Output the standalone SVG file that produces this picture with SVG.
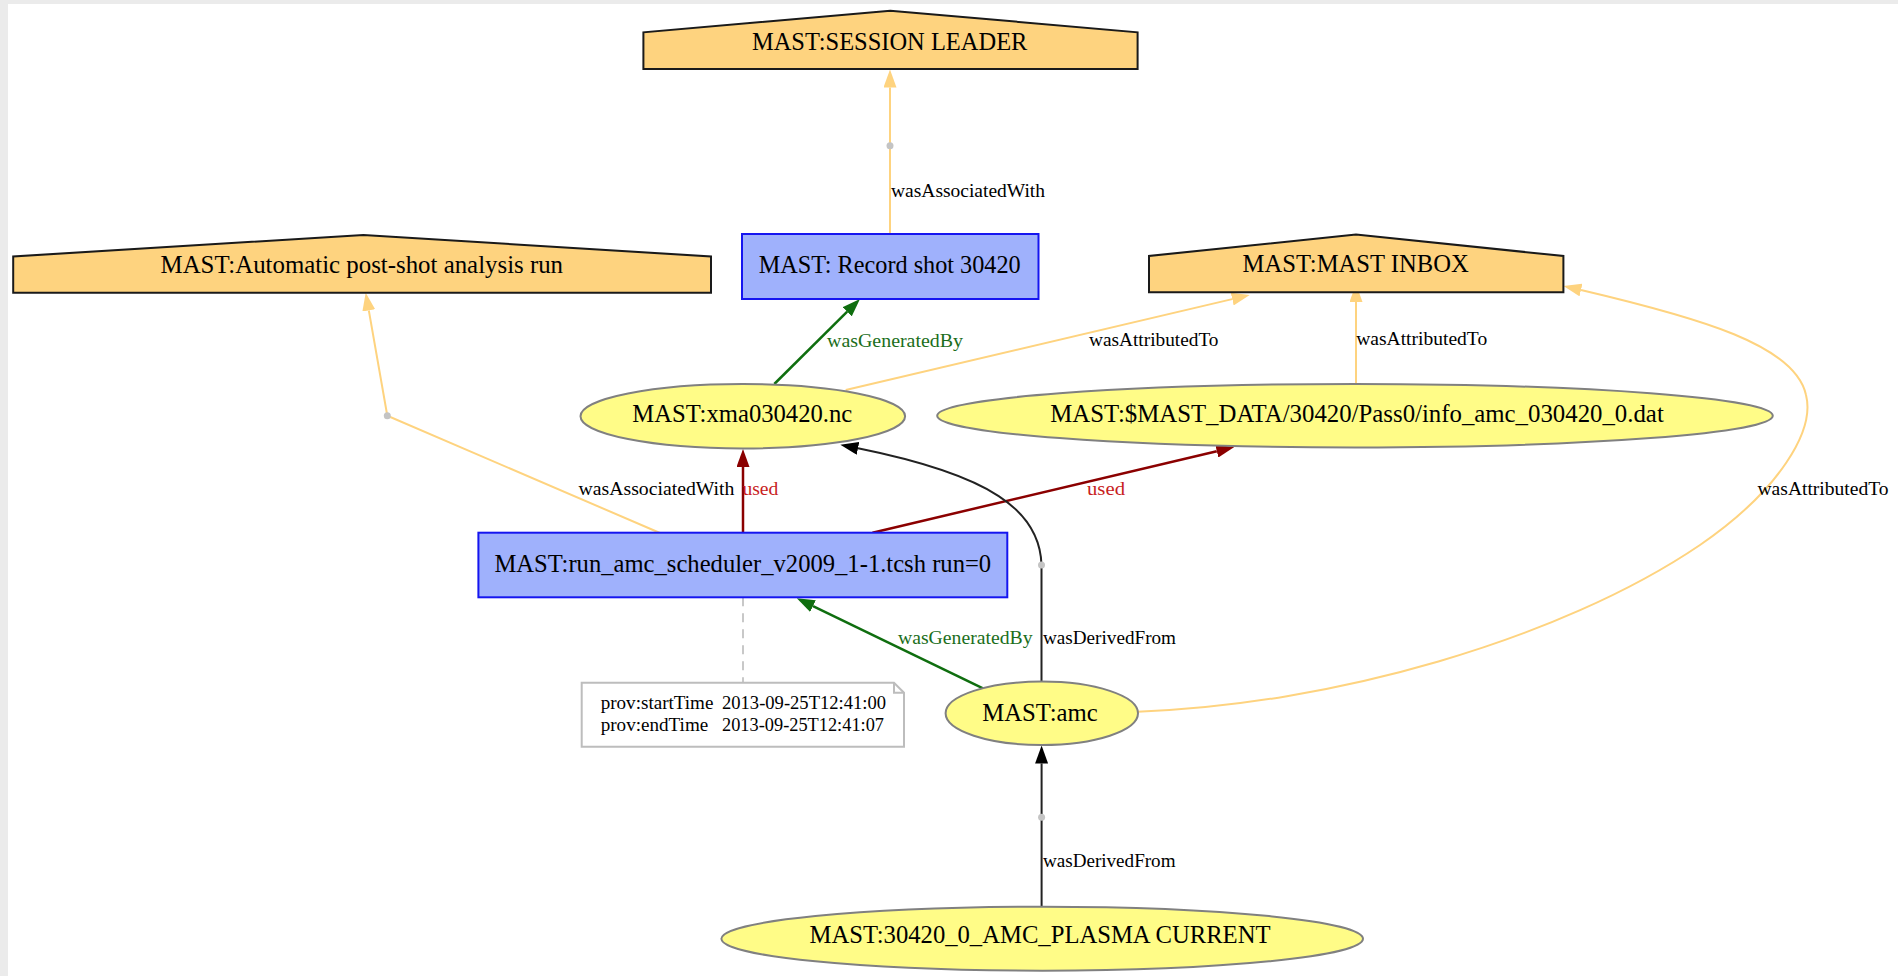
<svg xmlns="http://www.w3.org/2000/svg" width="1898" height="976" viewBox="0 0 1898 976">
<style>
.agent{fill:#fed37f;stroke:#1a1a1a;stroke-width:2}
.act{fill:#9fb1fc;stroke:#1515f0;stroke-width:2}
.ent{fill:#fffc87;stroke:#808080;stroke-width:2}
.nl{font-family:"Liberation Serif","Times New Roman",serif;font-size:25px;fill:#000;text-anchor:middle}
.el{font-family:"Liberation Serif","Times New Roman",serif;font-size:18px;fill:#000}
.gl{fill:#1b6e1b}
.ul{fill:#c81e1e}
.nt{font-family:"Liberation Serif","Times New Roman",serif;font-size:18px;fill:#000}
.e{fill:none;stroke-width:2}
.eo{stroke:#fed37f}
.eg{stroke:#0f6e0f;stroke-width:2.5}
.er{stroke:#8b0000;stroke-width:2.5}
.eb{stroke:#222}
.dot{fill:#c4c4c4}
</style>
<defs>
<marker id="ao" viewBox="0 0 18 13" markerWidth="18" markerHeight="13" refX="0" refY="6.5" orient="auto" markerUnits="userSpaceOnUse"><path d="M0,0 L18,6.5 L0,13 z" fill="#fed37f"/></marker>
<marker id="ag" viewBox="0 0 18 13" markerWidth="18" markerHeight="13" refX="0" refY="6.5" orient="auto" markerUnits="userSpaceOnUse"><path d="M0,0 L18,6.5 L0,13 z" fill="#0f6e0f"/></marker>
<marker id="ar" viewBox="0 0 18 13" markerWidth="18" markerHeight="13" refX="0" refY="6.5" orient="auto" markerUnits="userSpaceOnUse"><path d="M0,0 L18,6.5 L0,13 z" fill="#8b0000"/></marker>
<marker id="ab" viewBox="0 0 18 13" markerWidth="18" markerHeight="13" refX="0" refY="6.5" orient="auto" markerUnits="userSpaceOnUse"><path d="M0,0 L18,6.5 L0,13 z" fill="#000"/></marker>
</defs>
<rect x="0" y="0" width="1898" height="976" fill="#ebebeb"/>
<rect x="8" y="4" width="1890" height="972" fill="#ffffff"/>

<g id="connectors">
  <path class="e eo" d="M890,234 L890,87.5" marker-end="url(#ao)"/>
  <circle class="dot" cx="890" cy="145.7" r="3.5"/>
  <text class="el" x="891" y="197.3" textLength="154" lengthAdjust="spacingAndGlyphs">wasAssociatedWith</text>
  <path class="e eg" d="M774.3,384 L847.2,311.7" marker-end="url(#ag)"/>
  <text class="el gl" x="827" y="346.7" textLength="136" lengthAdjust="spacingAndGlyphs">wasGeneratedBy</text>
  <path class="e eo" d="M845.7,390 L1232.2,299.1" marker-end="url(#ao)"/>
  <text class="el" x="1089" y="346" textLength="129.5" lengthAdjust="spacingAndGlyphs">wasAttributedTo</text>
  <path class="e eo" d="M1356,384 L1356,302" marker-end="url(#ao)"/>
  <text class="el" x="1356.2" y="345" textLength="131" lengthAdjust="spacingAndGlyphs">wasAttributedTo</text>
  <path class="e eo" d="M1137.5,711.7 C1330,705 1560,640 1700,545 C1780,490 1815,430 1806,395 C1795,345 1700,318 1581,290" marker-end="url(#ao)"/>
  <text class="el" x="1757.5" y="495" textLength="131" lengthAdjust="spacingAndGlyphs">wasAttributedTo</text>
  <path class="e er" d="M743,532.7 L743,467" marker-end="url(#ar)"/>
  <text class="el ul" x="742.4" y="495" textLength="36" lengthAdjust="spacingAndGlyphs">used</text>
  <path class="e er" d="M872.5,532.7 L1216.8,451.2" marker-end="url(#ar)"/>
  <text class="el ul" x="1087" y="495" textLength="38" lengthAdjust="spacingAndGlyphs">used</text>
  <path class="e eo" d="M660,533 L387.3,415.7 L368.8,310.4" marker-end="url(#ao)"/>
  <circle class="dot" cx="387.3" cy="415.7" r="3.5"/>
  <text class="el" x="578.6" y="495" textLength="155.8" lengthAdjust="spacingAndGlyphs">wasAssociatedWith</text>
  <path class="e eg" d="M983,688.3 L813,606.1" marker-end="url(#ag)"/>
  <text class="el gl" x="898" y="644" textLength="134.5" lengthAdjust="spacingAndGlyphs">wasGeneratedBy</text>
  <path class="e eb" d="M1041.5,681.7 L1041.5,565 C1040,510 990,475 858,448.3" marker-end="url(#ab)"/>
  <circle class="dot" cx="1041.5" cy="565" r="3.5"/>
  <text class="el" x="1043" y="644" textLength="133" lengthAdjust="spacingAndGlyphs">wasDerivedFrom</text>
  <path class="e eb" d="M1041.6,906.7 L1041.6,763.5" marker-end="url(#ab)"/>
  <circle class="dot" cx="1041.6" cy="817.3" r="3.5"/>
  <text class="el" x="1043" y="867.3" textLength="132.5" lengthAdjust="spacingAndGlyphs">wasDerivedFrom</text>
  <path d="M743,597.3 L743,682.7" fill="none" stroke="#c8c8c8" stroke-width="2" stroke-dasharray="9,7"/>
</g>

<g id="session-leader">
  <polygon class="agent" points="643.4,69 643.4,32.3 890.3,10.7 1137.6,32.3 1137.6,69"/>
  <text class="nl" x="889.7" y="49.5" textLength="275.5" lengthAdjust="spacingAndGlyphs">MAST:SESSION LEADER</text>
</g>
<g id="automatic-run">
  <polygon class="agent" points="13.2,292.7 13.2,256.5 363.4,235 711,256.5 711,292.7"/>
  <text class="nl" x="361.8" y="273.3" textLength="402.5" lengthAdjust="spacingAndGlyphs">MAST:Automatic post-shot analysis run</text>
</g>
<g id="record-shot">
  <rect class="act" x="742" y="234" width="296.5" height="65"/>
  <text class="nl" x="889.7" y="273.3" textLength="262" lengthAdjust="spacingAndGlyphs">MAST: Record shot 30420</text>
</g>
<g id="mast-inbox">
  <polygon class="agent" points="1149,292.3 1149,256 1356,234.5 1563.4,256 1563.4,292.3"/>
  <text class="nl" x="1355.7" y="272.3" textLength="226.3" lengthAdjust="spacingAndGlyphs">MAST:MAST INBOX</text>
</g>
<g id="xma">
  <ellipse class="ent" cx="742.8" cy="416.2" rx="162.3" ry="32.2"/>
  <text class="nl" x="742.3" y="421.7" textLength="220" lengthAdjust="spacingAndGlyphs">MAST:xma030420.nc</text>
</g>
<g id="info-dat">
  <ellipse class="ent" cx="1355" cy="415.7" rx="417.8" ry="31.7"/>
  <text class="nl" x="1357" y="421.7" textLength="613.6" lengthAdjust="spacingAndGlyphs">MAST:$MAST_DATA/30420/Pass0/info_amc_030420_0.dat</text>
</g>
<g id="run-scheduler">
  <rect class="act" x="478.4" y="532.7" width="528.9" height="64.6"/>
  <text class="nl" x="742.8" y="571.7" textLength="496.8" lengthAdjust="spacingAndGlyphs">MAST:run_amc_scheduler_v2009_1-1.tcsh run=0</text>
</g>
<g id="annotation">
  <polygon points="581.7,682.7 894,682.7 904,692.7 904,746.7 581.7,746.7" fill="#fff" stroke="#bdbdbd" stroke-width="2"/>
  <polyline points="894,682.7 894,692.7 904,692.7" fill="none" stroke="#bdbdbd" stroke-width="2"/>
  <text class="nt" x="600.7" y="709" textLength="112.7" lengthAdjust="spacingAndGlyphs">prov:startTime</text>
  <text class="nt" x="722" y="709" textLength="164" lengthAdjust="spacingAndGlyphs">2013-09-25T12:41:00</text>
  <text class="nt" x="600.7" y="730.7" textLength="107.6" lengthAdjust="spacingAndGlyphs">prov:endTime</text>
  <text class="nt" x="722" y="730.7" textLength="162" lengthAdjust="spacingAndGlyphs">2013-09-25T12:41:07</text>
</g>
<g id="amc">
  <ellipse class="ent" cx="1041.8" cy="713.3" rx="96.2" ry="31.7"/>
  <text class="nl" x="1040" y="720.7" textLength="115.5" lengthAdjust="spacingAndGlyphs">MAST:amc</text>
</g>
<g id="plasma-current">
  <ellipse class="ent" cx="1042.2" cy="938.7" rx="320.8" ry="32"/>
  <text class="nl" x="1040" y="943.3" textLength="461" lengthAdjust="spacingAndGlyphs">MAST:30420_0_AMC_PLASMA CURRENT</text>
</g>
</svg>
